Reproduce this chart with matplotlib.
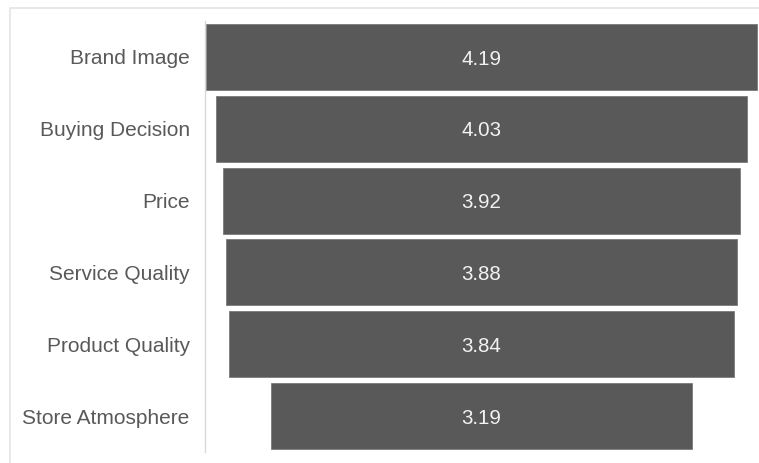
import matplotlib.pyplot as plt
from matplotlib.patches import Rectangle

categories = ["Brand Image", "Buying Decision", "Price", "Service Quality",
              "Product Quality", "Store Atmosphere"]
values = [4.19, 4.03, 3.92, 3.88, 3.84, 3.19]

plt.rcParams["font.family"] = ["Liberation Sans", "DejaVu Sans"]

fig = plt.figure(figsize=(7.59, 4.63), dpi=100)
fig.patches.append(Rectangle((10 / 759, -0.1), 1.0, (463 - 8) / 463 + 0.1,
                             transform=fig.transFigure, fill=False,
                             edgecolor="#e4e4e4", linewidth=1.2))

ax = fig.add_axes([205 / 759, 11 / 463, 553 / 759, 431 / 463])

ypos = list(range(len(categories)))[::-1]
lefts = [-v / 2 for v in values]
ax.barh(ypos, values, left=lefts, height=0.92, color="#595959",
        edgecolor="#7a7a7a", linewidth=0.6)

for y, v in zip(ypos, values):
    ax.text(0, y - 0.03, f"{v:.2f}", ha="center", va="center",
            color="#f2f2f2", fontsize=14.8)

vmax = max(values)
ax.set_xlim(-vmax / 2 - 0.005, vmax / 2 + 0.005)
ax.set_ylim(-0.5, len(categories) - 0.5)
ax.set_yticks(ypos)
ax.set_yticklabels(categories, fontsize=15, color="#595959")
for lbl in ax.get_yticklabels():
    lbl.set_verticalalignment("center_baseline")
ax.tick_params(axis="y", length=0, pad=11)
ax.set_xticks([])
for side in ["top", "right", "bottom"]:
    ax.spines[side].set_visible(False)
ax.spines["left"].set_color("#d9d9d9")
ax.spines["left"].set_linewidth(1.0)

fig.savefig("out.png", dpi=100)
